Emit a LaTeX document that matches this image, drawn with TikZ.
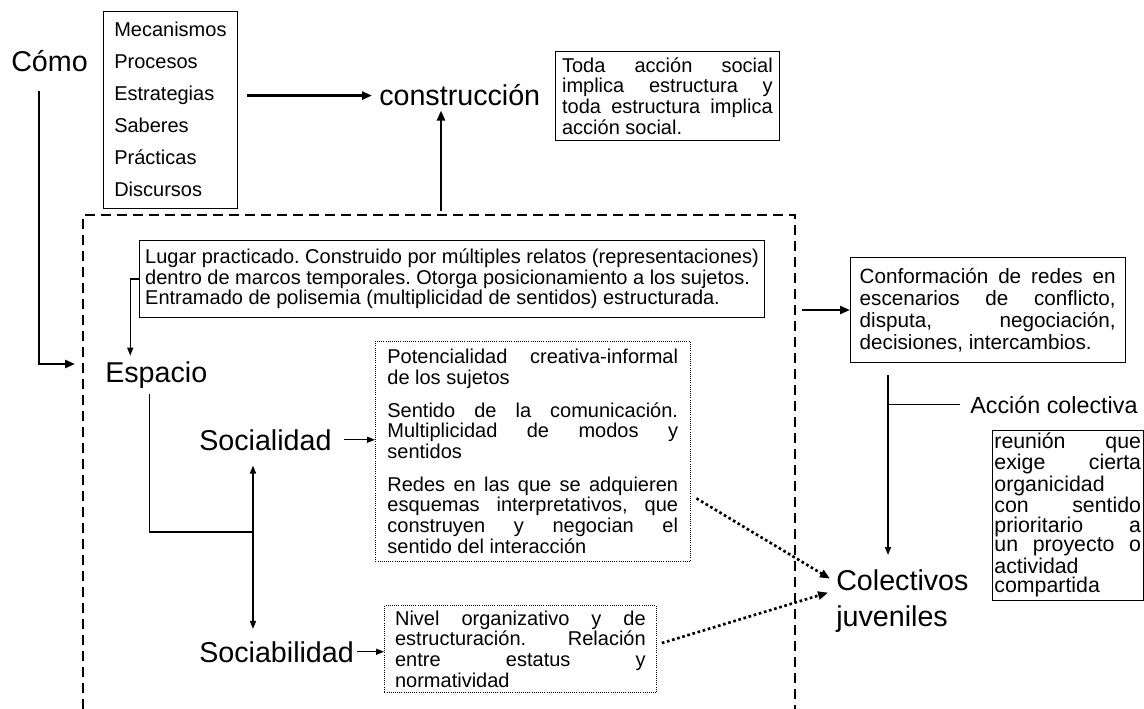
\documentclass[tikz,border=0pt]{standalone}
\usepackage{fontspec}
\setmainfont{Liberation Sans}
\usetikzlibrary{calc}
\usetikzlibrary{arrows.meta}
\usetikzlibrary{fit}
\hyphenpenalty=10000
\exhyphenpenalty=10000
\frenchspacing

\begin{document}
\begin{tikzpicture}[x=0.75pt,y=-0.75pt,
        bigtxt/.style={inner sep=0pt,anchor=base west,font=\fontsize{21.5}{27}\selectfont},
        listtxt/.style={inner sep=0pt,anchor=base west,font=\fontsize{15}{16}\selectfont},
        txtbox/.style={draw,line width=0.6pt,align=justify,inner sep=5pt,font=\fontsize{15}{15.5}\selectfont},
        dotbox/.style={txtbox,densely dotted},
        thinline/.style={line width=1pt},
        thinarr/.style={thinline,-{Triangle[length=6pt,width=4.5pt]}},
        dblarr/.style={thinline,{Triangle[length=6pt,width=4.5pt]}-{Triangle[length=6pt,width=4.5pt]}},
        thickarr/.style={line width=2pt,-{Triangle[length=7.5pt,width=6pt]}},
        dotarr/.style={line width=2pt,dash pattern=on 2pt off 2pt,-{Triangle[length=7.5pt,width=6pt]}},
        dashframe/.style={line width=1.5pt,dash pattern=on 7.5pt off 4.5pt}]
    \useasboundingbox (0,0) rectangle (1144,709);
    \node[bigtxt] (como) at (11,72) {Cómo};
    \foreach \w [count=\i] in {Mecanismos,Procesos,Estrategias,Saberes,Prácticas,Discursos}{
        \node[listtxt] (item\i) at (114,{37+32*(\i-1)}) {\w};
    };
    \node[draw,line width=0.6pt,inner sep=8pt,fit=(item1)(item6)] (list) {};
    \node[bigtxt] (constr) at (379,106) {construcción};
    \draw[thickarr] ($(list.east |- constr.west)+(9,0)$) -- ($(constr.west)+(-7,0)$);
    \node[txtbox,text width=158pt,inner ysep=4.5pt,anchor=north west] (toda) at (555,51) {Toda acción social\linebreak implica estructura y\linebreak toda estructura implica\linebreak acción social.};

    \coordinate (frametop) at (441,215);
    \draw[dashframe] (83,709) -- (83,215) -- (795,215) -- (795,709);
    \draw[thickarr,shorten <=3pt,shorten >=3pt] (frametop) -- (frametop |- constr.south);
    \coordinate (espin) at (75,364);
    \draw[thickarr] ([xshift=-8pt,yshift=-14pt]como.south) |- (espin);

    \node[txtbox,align=left,inner xsep=4pt,inner ysep=6pt] (lugar) at (452,279) {Lugar practicado. Construido por múltiples relatos (representaciones)\\dentro de marcos temporales. Otorga posicionamiento a los sujetos.\\Entramado de polisemia (multiplicidad de sentidos) estructurada.};
    \node[bigtxt] (espacio) at (105,382) {Espacio};
    \draw[thinarr,shorten >=4pt] (lugar.west) -| ([xshift=-19.5pt]espacio.north);

    \coordinate (junc) at (253,532);
    \draw[thinline] ([xshift=-5.25pt,yshift=-4pt]espacio.south) |- (junc);
    \node[bigtxt] (social) at (199,450) {Socialidad};
    \node[bigtxt] (sociab) at (199,662) {Sociabilidad};
    \draw[dblarr] ($(junc |- social.south)+(0,15)$) -- ($(junc |- sociab.north)+(0,-12)$);

    \node[dotbox,text width=218pt,inner xsep=9pt,inner ysep=6pt,anchor=north west] (pot) at (375,341) {Potencialidad creativa-informal\linebreak de los sujetos\\[9pt]Sentido de la comunicación.\linebreak Multiplicidad de modos y\linebreak sentidos\\[9pt]Redes en las que se adquieren\linebreak esquemas interpretativos, que\linebreak construyen y negocian el\linebreak sentido del interacción};
    \draw[thinarr] ($(social.east)+(12,0)$) -- (pot.west |- social.east);
    \node[dotbox,text width=188pt,inner xsep=8pt,inner ysep=4pt,anchor=north west] (nivel) at (384,605) {Nivel organizativo y de\linebreak estructuración. Relación\linebreak entre estatus y\linebreak normatividad};
    \draw[thinarr] ($(sociab.east)+(3,0)$) -- (nivel.west |- sociab.east);

    \node[txtbox,font=\fontsize{15.5}{16.5}\selectfont,text width=192pt,inner xsep=7pt,inner ysep=8pt,anchor=north west] (conf) at (850,257) {Conformación de redes en\linebreak escenarios de conflicto,\linebreak disputa, negociación,\linebreak decisiones, intercambios.};
    \draw[thickarr] ($(conf.west)+(-48,0)$) -- (conf.west);

    \coordinate (vtop) at (888,375);
    \node[bigtxt,align=left,anchor=north west] (colect) at (836,569) {Colectivos\\juveniles};
    \draw[thinarr] (vtop) -- ($(vtop |- colect.north)+(0,-14)$);
    \node[font=\fontsize{17.5}{18}\selectfont,inner sep=0pt,anchor=base west] (accion) at (970,413) {Acción colectiva};
    \draw[thinline] (vtop |- accion.west) -- ($(accion.west)+(-10,0)$);
    \node[txtbox,text width=110pt,inner xsep=1.5pt,inner ysep=2pt,font=\fontsize{16}{14.8}\selectfont,anchor=north west] (reunion) at (992,430) {reunión que\linebreak exige cierta\linebreak organicidad\linebreak con sentido\linebreak prioritario a\linebreak un proyecto o\linebreak actividad\linebreak compartida};

    \draw[dotarr] ($(pot.east)+(6,47)$) -- ($(colect.west)+(-6,-22)$);
    \draw[dotarr] ($(nivel.east)+(5,-6)$) -- ($(colect.west)+(-8,-8)$);
\end{tikzpicture}
\end{document}
